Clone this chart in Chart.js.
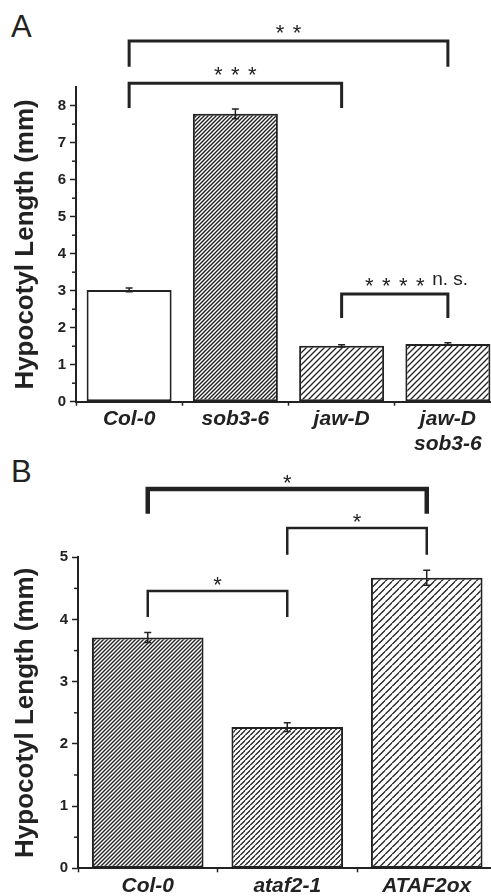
<!DOCTYPE html>
<html>
<head>
<meta charset="utf-8">
<script src="https://cdn.jsdelivr.net/npm/chart.js@4.4.1/dist/chart.umd.min.js"></script>
<style>
  html, body { margin: 0; padding: 0; background: #fff; overflow: hidden; }
  #page { position: relative; width: 491px; height: 896px; overflow: hidden; font-family: "Liberation Sans", Arial, sans-serif; }
  .panel-label { position: absolute; font-size: 31px; line-height: 1; color: #222; }
  canvas { position: absolute; left: 0; }
</style>
</head>
<body>
<div id="page">
  <div class="panel-label" style="left:11px; top:11px;">A</div>
  <div class="panel-label" style="left:11px; top:456px;">B</div>
  <canvas id="chartA" width="520" height="462" style="top:0px"></canvas>
  <canvas id="chartB" width="520" height="441" style="top:455px"></canvas>
</div>
<script>
// Panel A data
const categoriesA = ["Col-0", "sob3-6", "jaw-D", ["jaw-D", "sob3-6"]];
const lengthsA = [3.02, 7.78, 1.51, 1.56];
const errorsA = [0.05, 0.13, 0.03, 0.03];
const yTicksA = [0, 1, 2, 3, 4, 5, 6, 7, 8];
// significance brackets A (category index from/to, level of bar, level of legs)
const bracketFromA = [0, 0, 2];
const bracketToA = [3, 2, 3];
const bracketLevelA = [9.75, 8.61, 2.91];
const bracketLegA = [9.05, 7.94, 2.26];
const bracketStarsA = ["* *", "* * *", "* * * *"];
const bracketNoteA = ["", "", "n. s."];

// Panel B data
const categoriesB = ["Col-0", "ataf2-1", "ATAF2ox"];
const lengthsB = [3.71, 2.27, 4.67];
const errorsB = [0.08, 0.07, 0.12];
const yTicksB = [0, 1, 2, 3, 4, 5];
const bracketFromB = [0, 1, 0];
const bracketToB = [2, 2, 1];
const bracketLevelB = [6.10, 5.47, 4.46];
const bracketLegB = [5.70, 5.04, 4.04];
const bracketStarsB = ["*", "*", "*"];
const bracketNoteB = ["", "", ""];

const FONT = '"Liberation Sans", Arial, sans-serif';
const INK = "#222";
Chart.defaults.font.family = FONT;
Chart.defaults.color = INK;

// Diagonal hatch fill, spacing in px
function makeHatch(spacing, width) {
  const c = document.createElement("canvas");
  c.width = spacing;
  c.height = spacing;
  const g = c.getContext("2d");
  g.fillStyle = "#fff";
  g.fillRect(0, 0, spacing, spacing);
  g.strokeStyle = INK;
  g.lineWidth = width;
  g.beginPath();
  g.moveTo(0, spacing); g.lineTo(spacing, 0);
  g.moveTo(-1, 1); g.lineTo(1, -1);
  g.moveTo(spacing - 1, spacing + 1); g.lineTo(spacing + 1, spacing - 1);
  g.stroke();
  return g.createPattern(c, "repeat");
}

// Error bars, minor ticks and significance brackets
const sigPlugin = {
  id: "sigMarks",
  afterDatasetsDraw(chart, args, opts) {
    const ctx = chart.ctx;
    const xs = chart.scales.x;
    const ys = chart.scales.y;
    const meta = chart.getDatasetMeta(0);
    const values = chart.data.datasets[0].data;
    ctx.save();
    ctx.strokeStyle = INK;

    // error bars
    ctx.lineWidth = 1.5;
    opts.errors.forEach((e, i) => {
      const bx = meta.data[i].x;
      const yt = ys.getPixelForValue(values[i] + e);
      const yb = ys.getPixelForValue(values[i] - e);
      ctx.beginPath();
      ctx.moveTo(bx, yt); ctx.lineTo(bx, yb);
      ctx.moveTo(bx - 3.5, yt); ctx.lineTo(bx + 3.5, yt);
      ctx.moveTo(bx - 3.5, yb); ctx.lineTo(bx + 3.5, yb);
      ctx.stroke();
    });

    // minor ticks at half units
    const ax = chart.chartArea.left;
    for (let v = 0.5; v < ys.max; v += 1) {
      const py = ys.getPixelForValue(v);
      ctx.beginPath();
      ctx.moveTo(ax - 4, py); ctx.lineTo(ax, py);
      ctx.stroke();
    }

    // brackets
    ctx.lineCap = "butt";
    ctx.lineJoin = "miter";
    ctx.fillStyle = INK;
    ctx.textBaseline = "middle";
    opts.from.forEach((f, i) => {
      const x1 = xs.getPixelForValue(f);
      const x2 = xs.getPixelForValue(opts.to[i]);
      const yTop = ys.getPixelForValue(opts.level[i]);
      const yLeg = ys.getPixelForValue(opts.leg[i]);
      ctx.lineWidth = opts.lineWidths[i];
      ctx.beginPath();
      ctx.moveTo(x1, yLeg); ctx.lineTo(x1, yTop); ctx.lineTo(x2, yTop); ctx.lineTo(x2, yLeg);
      ctx.stroke();

      // stars, one by one
      const stars = opts.stars[i].split(" ");
      const cx = (x1 + x2) / 2;
      const ty = yTop - opts.textGap;
      ctx.font = "22px " + FONT;
      ctx.textAlign = "center";
      stars.forEach((s, k) => {
        ctx.fillText(s, cx + (k - (stars.length - 1) / 2) * opts.starGap, ty + 5);
      });
      if (opts.notes[i]) {
        const lastX = cx + ((stars.length - 1) / 2) * opts.starGap;
        ctx.textAlign = "left";
        ctx.font = "19px " + FONT;
        ctx.fillText(opts.notes[i], lastX + 12, ty - 2);
      }
    });
    ctx.restore();
  }
};

function buildChart(id, cfg) {
  return new Chart(document.getElementById(id), {
    type: "bar",
    data: {
      labels: cfg.labels,
      datasets: [{
        data: cfg.values,
        backgroundColor: cfg.fills,
        borderColor: INK,
        borderWidth: 2,
        borderSkipped: false,
        categoryPercentage: 1,
        barPercentage: 0.8
      }]
    },
    plugins: [sigPlugin],
    options: {
      responsive: false,
      animation: false,
      devicePixelRatio: 1,
      layout: { padding: cfg.padding },
      plugins: {
        legend: { display: false },
        tooltip: { enabled: false },
        sigMarks: cfg.marks
      },
      scales: {
        x: {
          afterFit(s) { s.height = cfg.xHeight; },
          border: { color: INK, width: 2 },
          grid: { offset: true, drawOnChartArea: false, tickLength: 4, tickColor: INK, tickWidth: 1.5 },
          ticks: { color: INK, padding: 1, font: { size: 21, weight: "bold", style: "italic" } }
        },
        y: {
          min: 0,
          max: cfg.yMax,
          afterFit(s) { s.width = cfg.yWidth; },
          afterBuildTicks(s) { s.ticks = cfg.yTicks.map(v => ({ value: v })); },
          border: { color: INK, width: 2 },
          grid: { drawOnChartArea: false, tickLength: 6, tickColor: INK, tickWidth: 1.5 },
          ticks: { color: INK, padding: 4, font: { size: 15, weight: "bold" } },
          title: {
            display: true,
            text: "Hypocotyl Length (mm)",
            color: INK,
            font: { size: 26, weight: "bold" },
            padding: { top: 10, bottom: 0 }
          }
        }
      }
    }
  });
}

buildChart("chartA", {
  labels: categoriesA,
  values: lengthsA,
  fills: ["#fff", makeHatch(4, 1.4), makeHatch(6, 1.3), makeHatch(6, 1.3)],
  yMax: 8.5,
  yTicks: yTicksA,
  yWidth: 76,
  xHeight: 60.3,
  padding: { top: 87.2, right: 19, left: 0, bottom: 0 },
  marks: {
    errors: errorsA,
    from: bracketFromA, to: bracketToA,
    level: bracketLevelA, leg: bracketLegA,
    stars: bracketStarsA, notes: bracketNoteA,
    lineWidths: [3, 3, 3],
    textGap: 12,
    starGap: 17
  }
});

buildChart("chartB", {
  labels: categoriesB,
  values: lengthsB,
  fills: [makeHatch(4, 1.4), makeHatch(5.5, 1.3), makeHatch(7.5, 1.3)],
  yMax: 5,
  yTicks: yTicksB,
  yWidth: 78,
  xHeight: 27.7,
  padding: { top: 102.3, right: 23.5, left: 0, bottom: 0 },
  marks: {
    errors: errorsB,
    from: bracketFromB, to: bracketToB,
    level: bracketLevelB, leg: bracketLegB,
    stars: bracketStarsB, notes: bracketNoteB,
    lineWidths: [4.5, 2.5, 2.5],
    textGap: 10,
    starGap: 17
  }
});
</script>
</body>
</html>
